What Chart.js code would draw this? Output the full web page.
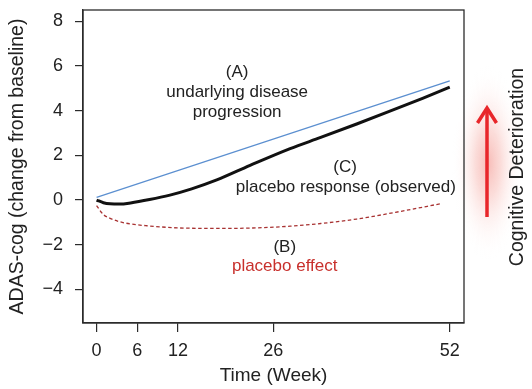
<!DOCTYPE html>
<html>
<head>
<meta charset="utf-8">
<script src="https://cdn.jsdelivr.net/npm/chart.js@4/dist/chart.umd.min.js"></script>
<style>
  html, body { margin: 0; padding: 0; background: #ffffff; }
  #c { display: block; }
</style>
</head>
<body>
<canvas id="c" width="532" height="389"></canvas>
<script>
// ---- data ----
const xTickWeeks = [0, 6, 12, 26, 52];
const yTickValues = [-4, -2, 0, 2, 4, 6, 8];

const diseaseWeeks = [0, 52];
const diseaseValues = [0.12, 5.33];

const observedWeeks = [0, 1, 2, 3.4, 5, 7.8, 10.8, 14, 17.7, 22.6, 28.5, 33, 38.3, 43, 48, 52];
const observedValues = [0.0, -0.12, -0.17, -0.18, -0.13, 0.02, 0.22, 0.5, 0.9, 1.55, 2.3, 2.8, 3.4, 3.95, 4.55, 5.05];

const effectWeeks = [0, 1, 2, 3.4, 5, 7.4, 12.3, 18.6, 23, 28.5, 33, 38.3, 44, 50.9];
const effectValues = [-0.25, -0.65, -0.82, -0.97, -1.07, -1.15, -1.25, -1.27, -1.25, -1.17, -1.05, -0.85, -0.55, -0.15];

// annotations: [text, week, value, colour]
const annotations = [
  ["(A)", 20.7, 5.73, "#222222"],
  ["undarlying disease", 20.7, 4.84, "#222222"],
  ["progression", 20.7, 3.93, "#222222"],
  ["(C)", 36.6, 1.45, "#222222"],
  ["placebo response (observed)", 36.7, 0.59, "#222222"],
  ["(B)", 27.7, -2.13, "#222222"],
  ["placebo effect", 27.7, -2.98, "#c8302c"]
];
const sideLabel = "Cognitive Deterioration";

const FONT = "'Liberation Sans', Arial, Helvetica, sans-serif";
const toPts = (xs, ys) => xs.map((x, i) => ({ x: x, y: ys[i] }));

const decorPlugin = {
  id: 'decor',
  beforeDraw(chart) {
    const ctx = chart.ctx;
    // soft red glow behind the arrow
    ctx.save();
    const cx = 488, cy = 163;
    ctx.translate(cx, cy);
    ctx.scale(1, 2.7);
    const g = ctx.createRadialGradient(0, 0, 0, 0, 0, 36);
    g.addColorStop(0, 'rgba(238,105,95,0.45)');
    g.addColorStop(0.35, 'rgba(242,140,130,0.30)');
    g.addColorStop(0.7, 'rgba(250,200,195,0.12)');
    g.addColorStop(1, 'rgba(255,255,255,0)');
    ctx.fillStyle = g;
    ctx.beginPath();
    ctx.arc(0, 0, 36, 0, Math.PI * 2);
    ctx.fill();
    ctx.restore();
  },
  afterDraw(chart) {
    const ctx = chart.ctx;
    const a = chart.chartArea;
    const xs = chart.scales.x, ys = chart.scales.y;
    // box
    ctx.save();
    ctx.strokeStyle = '#2b2b2b';
    ctx.lineWidth = 1.3;
    ctx.strokeRect(a.left, a.top, a.right - a.left, a.bottom - a.top);
    ctx.restore();
    // annotations
    ctx.save();
    ctx.font = "17px " + FONT;
    ctx.textAlign = 'center';
    ctx.textBaseline = 'middle';
    annotations.forEach(([t, wx, vy, col]) => {
      ctx.fillStyle = col;
      ctx.fillText(t, xs.getPixelForValue(wx), ys.getPixelForValue(vy));
    });
    ctx.restore();
    // arrow
    ctx.save();
    ctx.strokeStyle = '#e8262a';
    ctx.lineWidth = 3.5;
    ctx.lineCap = 'butt';
    ctx.beginPath();
    ctx.moveTo(487, 217);
    ctx.lineTo(487, 109);
    ctx.stroke();
    ctx.lineJoin = 'miter';
    ctx.beginPath();
    ctx.moveTo(477.5, 123);
    ctx.lineTo(487, 108);
    ctx.lineTo(496.5, 123);
    ctx.stroke();
    ctx.restore();
    // side label
    ctx.save();
    ctx.translate(518, 167);
    ctx.rotate(-Math.PI / 2);
    ctx.font = "19.5px " + FONT;
    ctx.fillStyle = '#222222';
    ctx.textAlign = 'center';
    ctx.textBaseline = 'middle';
    ctx.fillText(sideLabel, 0, 0);
    ctx.restore();
  }
};

new Chart(document.getElementById('c'), {
  type: 'line',
  data: {
    datasets: [
      {
        label: 'underlying disease progression',
        data: toPts(diseaseWeeks, diseaseValues),
        borderColor: '#5b8fd0',
        borderWidth: 1.2,
        pointRadius: 0,
        tension: 0
      },
      {
        label: 'placebo response (observed)',
        data: toPts(observedWeeks, observedValues),
        borderColor: '#111111',
        borderWidth: 3,
        pointRadius: 0,
        cubicInterpolationMode: 'monotone'
      },
      {
        label: 'placebo effect',
        data: toPts(effectWeeks, effectValues),
        borderColor: '#a83232',
        borderWidth: 1.3,
        borderDash: [3.5, 2.5],
        pointRadius: 0,
        cubicInterpolationMode: 'monotone'
      }
    ]
  },
  options: {
    responsive: false,
    animation: false,
    devicePixelRatio: 1,
    layout: { padding: { left: 0, right: 68, top: 10, bottom: 0 } },
    plugins: { legend: { display: false }, tooltip: { enabled: false } },
    scales: {
      x: {
        type: 'linear',
        min: -2,
        max: 54.1,
        afterBuildTicks: (s) => { s.ticks = xTickWeeks.map(v => ({ value: v })); },
        afterFit: (s) => { s.height = 66; s.paddingLeft = 0; s.paddingRight = 0; },
        grid: { display: true, drawOnChartArea: false, drawTicks: true, tickLength: 9, color: '#2b2b2b', lineWidth: 1.2 },
        border: { display: true, color: '#2b2b2b', width: 1.3 },
        ticks: { font: { family: FONT, size: 18 }, color: '#222222', padding: 8, maxRotation: 0, autoSkip: false },
        title: { display: true, text: 'Time (Week)', font: { family: FONT, size: 19 }, color: '#222222', padding: { top: 0, bottom: 2 } }
      },
      y: {
        type: 'linear',
        min: -5.5,
        max: 8.5,
        afterBuildTicks: (s) => { s.ticks = yTickValues.map(v => ({ value: v })); },
        afterFit: (s) => { s.width = 83; s.paddingTop = 0; s.paddingBottom = 0; },
        grid: { display: true, drawOnChartArea: false, drawTicks: true, tickLength: 8, color: '#2b2b2b', lineWidth: 1.2 },
        border: { display: true, color: '#2b2b2b', width: 1.3 },
        ticks: {
          font: { family: FONT, size: 18 }, color: '#222222', padding: 12, autoSkip: false,
          callback: (v) => String(v).replace('-', '\u2212')
        },
        title: { display: true, text: 'ADAS-cog (change from baseline)', font: { family: FONT, size: 19.5 }, color: '#222222', padding: { top: 6, bottom: 0 } }
      }
    }
  },
  plugins: [decorPlugin]
});
</script>
</body>
</html>
